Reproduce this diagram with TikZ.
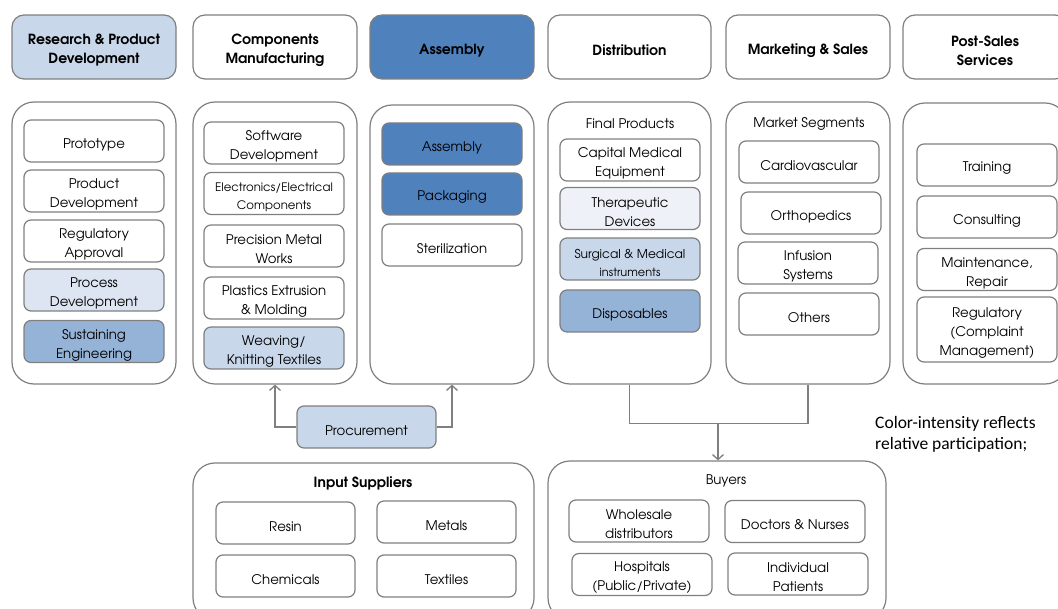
\documentclass[tikz,border=0pt]{standalone}
\usepackage{fontspec}
\setmainfont{texgyreadventor}[Extension=.otf, UprightFont=*-regular, BoldFont=*-bold]
\newfontfamily\notefont{Carlito}
\usetikzlibrary{arrows.meta}
\definecolor{bgray}{HTML}{7F7F7F}
\definecolor{cA}{HTML}{EEF2F8}
\definecolor{cB}{HTML}{DCE5F1}
\definecolor{cC}{HTML}{C9D7EA}
\definecolor{cD}{HTML}{95B3D7}
\definecolor{cE}{HTML}{4F81BD}
% box with its text lowered a little: [options]{name}{position}{text}
\newcommand\bx[4][]{%
  \node[box,#1] (#2) at (#3) {};
  \node[txt,#1,draw=none,fill=none] at ([yshift=-3.5pt]#2.center) {#4};}
\newcommand\hd[4][]{%
  \node[head,#1] (#2) at (#3) {};
  \node[htxt,#1,draw=none,fill=none] at ([yshift=-3.5pt]#2.center) {#4};}
\begin{document}
\begin{tikzpicture}[x=1pt,y=-1pt,
  every node/.style={text=black},
  box/.style={draw=bgray, line width=1.2pt, rounded corners=7pt,
    minimum width=140pt, minimum height=42pt, inner sep=0pt},
  txt/.style={align=center, inner sep=0pt, font=\fontsize{13.3}{19}\selectfont},
  cont/.style={draw=bgray, line width=1.2pt, rounded corners=22pt, minimum width=164pt, minimum height=282pt, inner sep=0pt},
  head/.style={draw=bgray, line width=1.2pt, rounded corners=12pt, minimum width=164pt, minimum height=64pt, inner sep=0pt},
  htxt/.style={align=center, inner sep=0pt, font=\fontsize{14}{19}\selectfont\bfseries},
  lbl/.style={font=\fontsize{13.3}{15}\selectfont, inner sep=0pt},
  conn/.style={draw=bgray, line width=1.3pt},
  arr/.style={conn, -{Straight Barb[length=5pt,width=11pt,line width=1.3pt]}}
]
\useasboundingbox (0,0) rectangle (1058,609);
% headers
\hd[fill=cC]{h1}{94,47}{Research \& Product\\Development}
\hd{h2}{275,47}{Components\\Manufacturing}
\hd[fill=cE]{h3}{452,47}{Assembly}
\hd[minimum width=163pt]{h4}{629.5,47}{Distribution}
\hd{h5}{808,47}{Marketing \& Sales}
\hd{h6}{985,47}{Post-Sales\\Services}
% containers
\node[cont] (c1) at (94,243) {};
\node[cont] (c2) at (275,243) {};
\node[cont, minimum height=279pt] (c3) at (452,244.5) {};
\node[cont, minimum width=163pt] (c4) at (629.5,243) {};
\node[cont] (c5) at (808,243) {};
\node[cont, minimum height=281pt] (c6) at (985,243.5) {};
% col1
\bx{proto}{94,141}{Prototype}
\bx{pdev}{94,191}{Product\\Development}
\bx{reg}{94,241}{Regulatory\\Approval}
\bx[fill=cB]{procdev}{94,290}{Process\\Development}
\bx[fill=cD]{sust}{94,341.5}{Sustaining\\Engineering}
% col2
\bx{soft}{274,143}{Software\\Development}
\bx[font=\fontsize{11.7}{18}\selectfont]{elec}{274,193.5}{Electronics/Electrical\\Components}
\bx{prec}{274,246}{Precision Metal\\Works}
\bx{plast}{274,298}{Plastics Extrusion\\\& Molding}
\bx[fill=cC]{weave}{274,348}{Weaving/\\Knitting Textiles}
% col3
\bx[fill=cE]{asm}{452,144}{Assembly}
\bx[fill=cE]{pack}{452,194}{Packaging}
\bx{ster}{452,245}{Sterilization}
% col4
\node[lbl] (fp) at (630,124) {Final Products};
\bx{cap}{630,160}{Capital Medical\\Equipment}
\bx[fill=cA]{ther}{630,208.5}{Therapeutic\\Devices}
\bx[fill=cC, font=\fontsize{12.2}{18}\selectfont]{surg}{630,259}{Surgical \& Medical\\{\fontsize{11.3}{12}\selectfont instruments}}
\bx[fill=cD]{disp}{630,311}{Disposables}
% col5
\node[lbl] (ms) at (809,123.5) {Market Segments};
\bx{cardio}{809,162}{Cardiovascular}
\bx{ortho}{811,213}{Orthopedics}
\bx{inf}{808,263}{Infusion\\Systems}
\bx{oth}{809,314}{Others}
% col6
\bx{train}{987,165}{Training}
\bx{cons}{987,217}{Consulting}
\bx{maint}{987,269.5}{Maintenance,\\Repair}
\bx[minimum height=65pt]{regc}{987,329.5}{Regulatory\\(Complaint\\Management)}
% procurement
\bx[fill=cC, minimum width=139pt]{proc}{366.5,427}{Procurement}
\draw[arr] (proc.west) -| (c2.south);
\draw[arr] (proc.east) -| (c3.south);
% input suppliers
\node[cont, minimum width=341pt, minimum height=157pt] (inp) at (363.5,541.5) {};
\node[lbl, font=\fontsize{14}{15}\selectfont\bfseries] (inpl) at (363,483) {Input Suppliers};
\bx[minimum width=139pt]{resin}{285.5,523}{Resin}
\bx[minimum width=139pt]{metal}{446.5,522}{Metals}
\bx[minimum width=139pt]{chem}{285.5,576}{Chemicals}
\bx[minimum width=139pt]{text}{446.5,576}{Textiles}
% buyers
\node[cont, minimum width=338pt, minimum height=159pt] (buy) at (717,540.5) {};
\node[lbl] (buyl) at (726,481) {Buyers};
\bx{whole}{639,521}{Wholesale\\distributors}
\bx{doc}{795,521.5}{Doctors \& Nurses}
\bx{hosp}{642,574.5}{Hospitals\\(Public/Private)}
\bx{indiv}{798,574}{Individual\\Patients}
% connector distribution/marketing -> buyers
\draw[conn] (c4.south) -- ++(0,39) -| (c5.south);
\coordinate (mid) at (718,423);
\draw[arr] (mid) -- (mid |- buy.north);
% note
\node[anchor=north west, align=left, inner sep=0pt, font=\notefont\fontsize{17.5}{21}\selectfont] (note) at (875,416) {Color-intensity reflects\\relative participation;};
\end{tikzpicture}
\end{document}
